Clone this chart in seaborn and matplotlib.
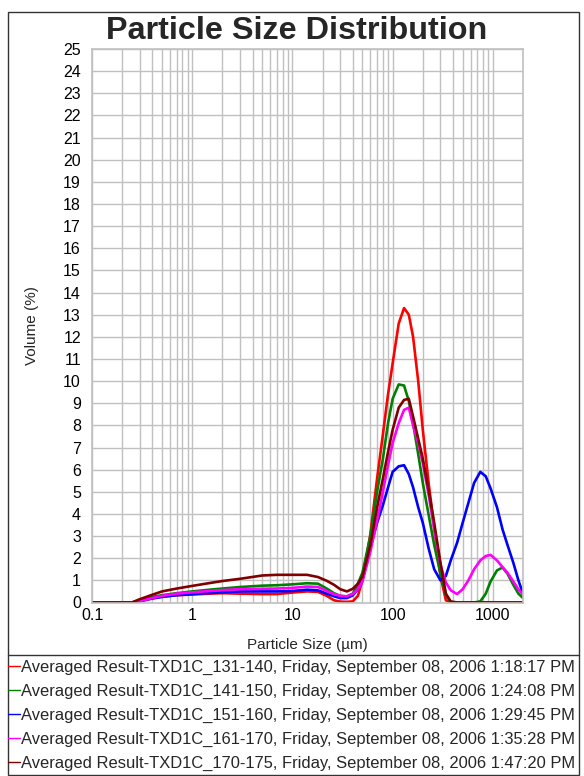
import matplotlib
matplotlib.use("Agg")
import matplotlib.pyplot as plt
import seaborn as sns
import pandas as pd
from matplotlib.patches import Rectangle
from matplotlib.lines import Line2D
from matplotlib.ticker import LogLocator, NullFormatter, FixedLocator, FixedFormatter

sizes = [0.1, 0.25, 0.3, 0.4, 0.5, 0.7, 1, 1.5, 2, 3, 5, 7, 10, 14, 18, 22, 26, 30, 35,
         40, 45, 50, 60, 70, 80, 90, 100, 115, 130, 145, 160, 180, 200, 230, 260, 300,
         340, 380, 440, 500, 570, 650, 750, 850, 950, 1100, 1250, 1400, 1600, 1800, 2000]

vol_131_140 = [0, 0, 0.08, 0.2, 0.27, 0.33, 0.36, 0.4, 0.42, 0.4, 0.38, 0.38, 0.45, 0.5, 0.48,
               0.3, 0.1, 0.04, 0.03, 0.05, 0.3, 1.0, 3.1, 5.6, 7.6, 9.4, 10.8, 12.6, 13.3, 13.0,
               12.0, 10.0, 7.8, 5.3, 3.4, 1.2, 0.1, 0, 0, 0, 0, 0, 0, 0, 0, 0, 0, 0, 0, 0, 0]
vol_141_150 = [0, 0, 0.08, 0.25, 0.33, 0.42, 0.5, 0.58, 0.63, 0.7, 0.76, 0.78, 0.82, 0.87, 0.85,
               0.63, 0.42, 0.3, 0.27, 0.4, 0.85, 1.35, 3.0, 5.0, 6.5, 8.1, 9.2, 9.85, 9.8, 9.1,
               8.1, 6.7, 5.4, 3.9, 2.6, 1.3, 0.35, 0, 0, 0, 0, 0, 0.05, 0.4, 0.95, 1.45, 1.58,
               1.3, 0.8, 0.4, 0.2]
vol_151_160 = [0, 0, 0.05, 0.18, 0.25, 0.33, 0.38, 0.43, 0.46, 0.5, 0.5, 0.5, 0.52, 0.58, 0.55,
               0.4, 0.28, 0.2, 0.2, 0.32, 0.6, 1.0, 2.5, 3.6, 4.4, 5.2, 5.9, 6.15, 6.2, 5.8,
               5.2, 4.3, 3.6, 2.4, 1.5, 1.0, 1.2, 1.9, 2.7, 3.6, 4.5, 5.4, 5.9, 5.7, 5.15, 4.3,
               3.3, 2.6, 1.8, 1.0, 0.4]
vol_161_170 = [0, 0, 0.06, 0.2, 0.3, 0.4, 0.46, 0.52, 0.56, 0.6, 0.62, 0.63, 0.66, 0.72, 0.7,
               0.52, 0.38, 0.3, 0.28, 0.38, 0.6, 0.95, 2.3, 3.7, 5.0, 6.2, 7.2, 8.1, 8.7, 8.8,
               8.0, 7.2, 6.3, 4.8, 3.3, 1.7, 0.9, 0.55, 0.38, 0.6, 1.0, 1.5, 1.9, 2.1, 2.15,
               1.9, 1.6, 1.35, 0.95, 0.6, 0.35]
vol_170_175 = [0, 0, 0.15, 0.35, 0.5, 0.63, 0.75, 0.88, 0.97, 1.07, 1.22, 1.25, 1.25, 1.25, 1.15,
               0.98, 0.8, 0.6, 0.5, 0.62, 0.85, 1.17, 2.6, 4.3, 5.6, 6.8, 7.8, 8.8, 9.15, 9.2,
               8.4, 7.4, 6.5, 5.0, 3.6, 1.8, 0.4, 0.05, 0, 0, 0, 0, 0, 0, 0, 0, 0, 0, 0, 0, 0]

labels = [
    "Averaged Result-TXD1C_131-140, Friday, September 08, 2006 1:18:17 PM",
    "Averaged Result-TXD1C_141-150, Friday, September 08, 2006 1:24:08 PM",
    "Averaged Result-TXD1C_151-160, Friday, September 08, 2006 1:29:45 PM",
    "Averaged Result-TXD1C_161-170, Friday, September 08, 2006 1:35:28 PM",
    "Averaged Result-TXD1C_170-175, Friday, September 08, 2006 1:47:20 PM",
]
colors = ["#ff0000", "#008000", "#0000ff", "#ff00ff", "#800000"]
y_ticks = list(range(0, 26))
x_ticks = [0.1, 1, 10, 100, 1000]
x_ticklabels = ["0.1", "1", "10", "100", "1000"]

series = [vol_131_140, vol_141_150, vol_151_160, vol_161_170, vol_170_175]
frames = []
for lab, vals in zip(labels, series):
    frames.append(pd.DataFrame({"size": sizes, "volume": vals, "run": lab}))
df = pd.concat(frames, ignore_index=True)

sns.set_style("white")
plt.rcParams["font.family"] = ["Liberation Sans", "DejaVu Sans"]

W, H = 584, 776
fig = plt.figure(figsize=(W / 100, H / 100), dpi=100)
ax = fig.add_axes([92 / W, 1 - 602.5 / H, (523 - 92) / W, (602.5 - 49) / H])

sns.lineplot(data=df, x="size", y="volume", hue="run", palette=colors,
             estimator=None, sort=True, linewidth=1.9, legend=False, ax=ax)

ax.set_xscale("log")
ax.set_xlim(0.1, 2000)
ax.set_ylim(0, 25)
ax.xaxis.set_major_locator(FixedLocator(x_ticks))
ax.xaxis.set_major_formatter(FixedFormatter(x_ticklabels))
ax.xaxis.set_minor_locator(LogLocator(base=10, subs=range(2, 10), numticks=20))
ax.xaxis.set_minor_formatter(NullFormatter())
ax.set_yticks(y_ticks)
ax.grid(True, which="both", color="#c0c0c0", linewidth=1.0)
ax.set_axisbelow(True)
for s in ax.spines.values():
    s.set_color("#c0c0c0")
    s.set_linewidth(1.2)
ax.tick_params(axis="both", which="both", length=0, labelsize=11.5, colors="black")
ax.tick_params(axis="y", pad=8)
ax.tick_params(axis="x", pad=4)

ax.set_xlabel("Particle Size (µm)", fontsize=11, labelpad=11)
ax.set_ylabel("Volume (%)", fontsize=11, labelpad=17)

fig.text(297 / W, 1 - 31 / H, "Particle Size Distribution", ha="center", va="center",
         fontsize=23.3, fontweight="bold")

# outer frame and separator above the legend
fig.patches.append(Rectangle((8 / W, 1 - 775 / H), (579 - 8) / W, (775 - 12) / H,
                             transform=fig.transFigure, fill=False, edgecolor="#333333",
                             linewidth=1.0))
fig.lines.append(Line2D([8 / W, 579 / W], [1 - 655 / H, 1 - 655 / H],
                        transform=fig.transFigure, color="#333333", linewidth=1.0))

handles = [Line2D([], [], color=c, linewidth=1.0) for c in colors]
leg = fig.legend(handles, labels, loc="upper left", bbox_to_anchor=(8 / W, 1 - 660 / H),
                 frameon=False, fontsize=11.9, handlelength=0.75, handletextpad=0.05,
                 borderpad=0, borderaxespad=0, labelspacing=0.54)

fig.savefig("out.png", dpi=100)
